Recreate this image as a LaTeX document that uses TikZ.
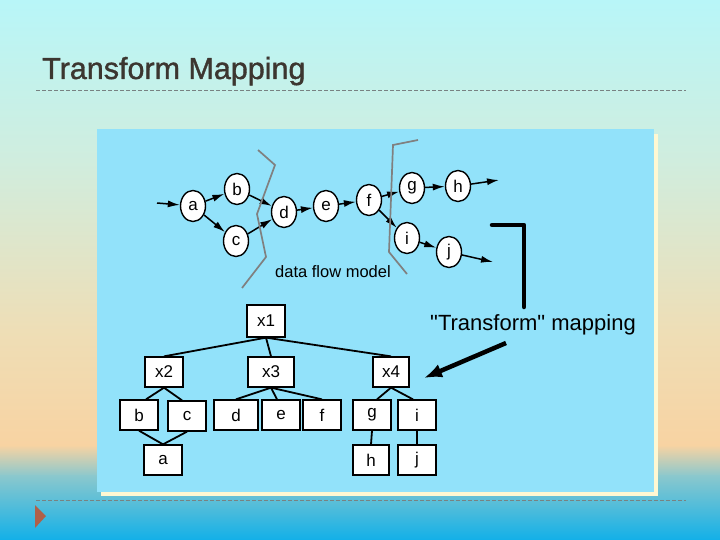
\documentclass[tikz,border=0pt]{standalone}
\usepackage{fontspec}
\setmainfont{Liberation Sans}
\newfontfamily\rawsans{Liberation Sans}[Ligatures=ResetAll]
\newfontfamily\titlesans{Liberation Sans}[FakeBold=1.2]
\usetikzlibrary{arrows.meta,shapes.geometric}
\definecolor{bgA}{RGB}{184,246,248}
\definecolor{bgB}{RGB}{208,237,222}
\definecolor{bgC}{RGB}{238,222,182}
\definecolor{bgD}{RGB}{248,211,162}
\definecolor{bgE}{RGB}{140,200,205}
\definecolor{bgF}{RGB}{18,176,232}
\definecolor{panelblue}{RGB}{146,226,250}
\definecolor{cream}{RGB}{255,248,210}
\definecolor{titlebrown}{RGB}{60,54,48}
\definecolor{rulegray}{RGB}{120,130,130}
\definecolor{bulletred}{RGB}{176,96,72}
\definecolor{cutgray}{RGB}{128,128,128}

\begin{document}
\begin{tikzpicture}[x=1pt, y=-1pt, >=Latex,
    bubble/.style={draw=black, fill=white, ellipse, line width=1.4pt, minimum width=25pt, minimum height=31pt, inner sep=0pt, font=\fontsize{17}{17}\selectfont},
    cell/.style={draw=black, fill=white, rectangle, line width=1.3pt, minimum width=38pt, minimum height=30pt, inner sep=0pt, font=\fontsize{17}{17}\selectfont},
    flow/.style={-{Latex[length=12pt,width=7pt]}, line width=1.5pt},
    link/.style={line width=1.8pt},
    cut/.style={draw=cutgray, line width=1.7pt},
    rule/.style={draw=rulegray, line width=0.8pt, dash pattern=on 4pt off 2pt}]

  % slide background
  \useasboundingbox (0,0) rectangle (720,540);
  \shade[top color=bgA, bottom color=bgB] (0,0) rectangle (720,161);
  \shade[top color=bgB, bottom color=bgC] (0,160) rectangle (720,331);
  \shade[top color=bgC, bottom color=bgD] (0,330) rectangle (720,446);
  \shade[top color=bgD, bottom color=bgE] (0,445) rectangle (720,476);
  \shade[top color=bgE, bottom color=bgF] (0,475) rectangle (720,540);

  \node[anchor=base west, inner sep=0pt, font=\titlesans\fontsize{30.5}{32}\selectfont, text=titlebrown] (title) at (42,79) {Transform Mapping};
  \draw[rule] (36,90) -- (686,90);
  \draw[rule] (36,500) -- (686,500);
  \fill[bulletred] (35,505) -- (46,516) -- (35,528) -- cycle;

  % picture panel
  \fill[cream] (101,134) rectangle (658,496);
  \fill[panelblue] (97,129) rectangle (654,492);

  % data flow model
  \node[bubble] (a) at (193,206) {a};
  \node[bubble] (b) at (237,189) {b};
  \node[bubble] (c) at (236,241) {c};
  \node[bubble] (d) at (284,212) {d};
  \node[bubble] (e) at (326,206) {e};
  \node[bubble] (f) at (369,200) {f};
  \node[bubble] (g) at (412,188) {g};
  \node[bubble] (h) at (458,186) {h};
  \node[bubble] (i) at (407,238) {i};
  \node[bubble] (j) at (449,252) {j};
  \coordinate (in) at (157,203);
  \coordinate (hout) at (499,180);
  \coordinate (jout) at (493,262);

  \draw[flow] (in) -- (a);
  \draw[flow] (a) -- (b);
  \draw[flow] (a) -- (c);
  \draw[flow] (b) -- (d);
  \draw[flow] (c) -- (d);
  \draw[flow] (d) -- (e);
  \draw[flow] (e) -- (f);
  \draw[flow] (f) -- (g);
  \draw[flow] (g) -- (h);
  \draw[flow] (h) -- (hout);
  \draw[flow] (f) -- (i);
  \draw[flow] (i) -- (j);
  \draw[flow] (j) -- (jout);

  \draw[cut] (258,150) -- (275,165) -- (257,214) -- (266,257) -- (242,288);
  \draw[cut] (418,140) -- (393,145) -- (389,252) -- (407,274);
  \node[font=\fontsize{16.5}{16.5}\selectfont] (dfm) at (333,272) {data flow model};

  % program structure
  \node[cell, minimum height=32pt] (x1) at (266,321) {x1};
  \node[cell] (x2) at (164,372) {x2};
  \node[cell, minimum width=46pt] (x3) at (271,372) {x3};
  \node[cell, minimum width=36pt] (x4) at (391,372) {x4};
  \node[cell] (tb) at (139,415) {b};
  \node[cell] (tc) at (187,416) {c};
  \node[cell, minimum width=44pt] (td) at (236,415) {d};
  \node[cell] (te) at (281,415) {e};
  \node[cell] (tf) at (322,415) {f};
  \node[cell] (tg) at (372,415) {g};
  \node[cell] (ti) at (417,415) {i};
  \node[cell] (ta) at (163,460) {a};
  \node[cell, minimum width=36pt] (th) at (371,460) {h};
  \node[cell] (tj) at (417,460) {j};

  \draw[link] (x1.south) -- (x2.north);
  \draw[link] (x1.south) -- (x3.north);
  \draw[link] (x1.south) -- (x4.north);
  \draw[link] (x2.south) -- ([xshift=7pt]tb.north);
  \draw[link] (x2.south) -- ([xshift=-5pt]tc.north);
  \draw[link] (x3.south) -- (td.north);
  \draw[link] (x3.south) -- ([xshift=-4pt]te.north);
  \draw[link] (x3.south) -- (tf.north);
  \draw[link] (x4.south) -- ([xshift=5pt]tg.north);
  \draw[link] (x4.south) -- ([xshift=-4pt]ti.north);
  \draw[link] (tb.south) -- (ta.north) -- (tc.south);
  \draw[link] (tg.south) -- (th.north);
  \draw[link] (ti.south) -- (tj.north);

  % transform mapping
  \node[font=\rawsans\fontsize{22}{22}\selectfont] (tmap) at (533,325) {"Transform" mapping};
  \coordinate (lstart) at (492,225);
  \coordinate (lcorner) at (524,225);
  \coordinate (lend) at (524,307);
  \draw[line width=4.5pt, line cap=round, line join=round] (lstart) -- (lcorner) -- (lend);
  \coordinate (mapfrom) at (506,343);
  \coordinate (mapto) at (424,378);
  \draw[line width=4.5pt, -{Latex[length=18pt,width=14pt]}] (mapfrom) -- (mapto);
\end{tikzpicture}
\end{document}
